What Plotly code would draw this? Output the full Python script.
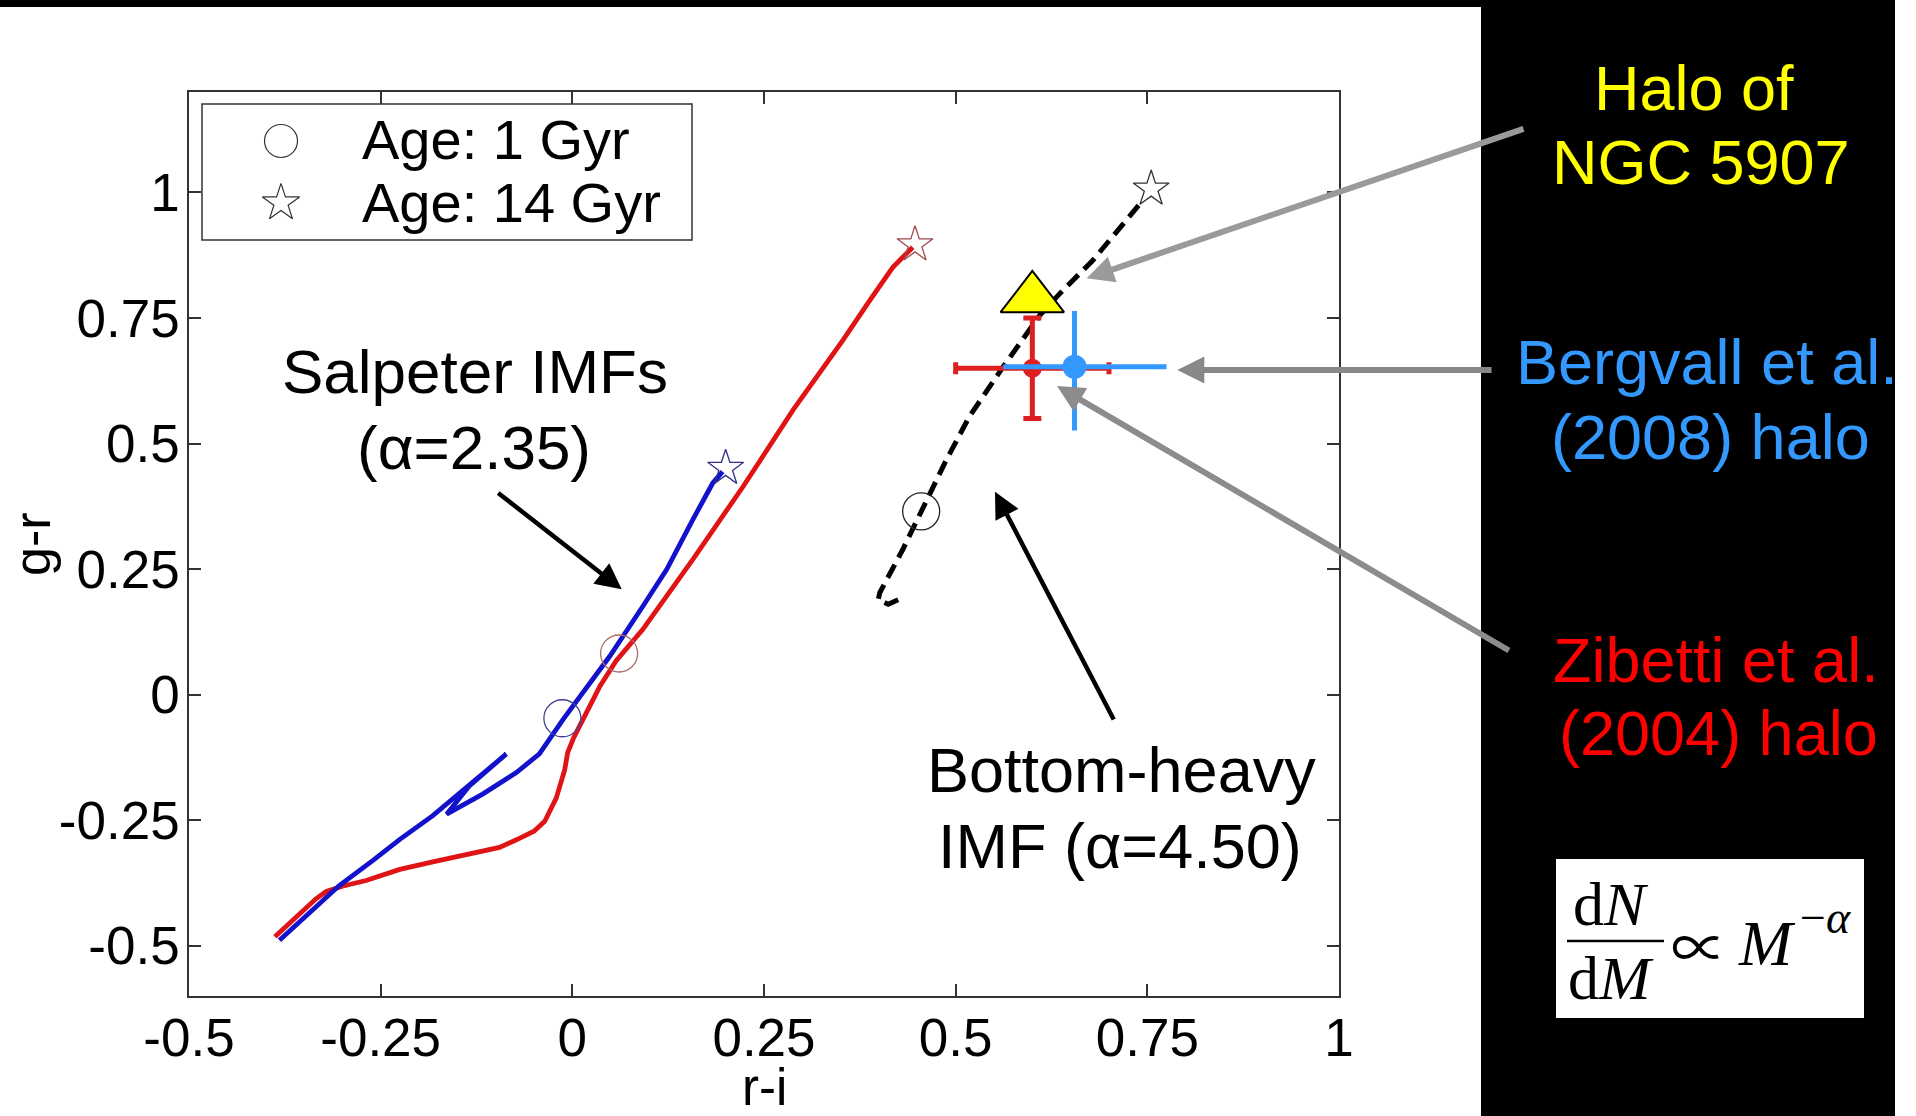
import plotly.graph_objects as go

# ---------------- data ----------------
# Salpeter IMF track (red)
red_x = [-0.388, -0.377, -0.356, -0.334, -0.321, -0.299, -0.269, -0.225, -0.182, -0.138,
         -0.095, -0.073, -0.050, -0.036, -0.021, -0.010, -0.006, 0.002, 0.015, 0.036,
         0.057, 0.092, 0.157, 0.223, 0.288, 0.353, 0.388, 0.418, 0.444]
red_y = [-0.482, -0.466, -0.436, -0.406, -0.392, -0.381, -0.370, -0.348, -0.333, -0.318,
         -0.304, -0.289, -0.272, -0.252, -0.206, -0.150, -0.115, -0.085, -0.046, 0.017,
         0.067, 0.130, 0.269, 0.415, 0.567, 0.706, 0.785, 0.851, 0.891]
# Salpeter IMF track (blue)
blue_x = [-0.382, -0.350, -0.304, -0.260, -0.225, -0.182, -0.138, -0.086, -0.134, -0.164,
          -0.117, -0.073, -0.043, -0.012, 0.036, 0.049, 0.092, 0.123, 0.157, 0.183, 0.196]
blue_y = [-0.489, -0.445, -0.380, -0.330, -0.288, -0.241, -0.185, -0.118, -0.181, -0.238,
          -0.198, -0.155, -0.118, -0.049, 0.050, 0.077, 0.176, 0.249, 0.348, 0.421, 0.444]
# Bottom-heavy IMF track (black dashed)
bh_x = [0.425, 0.412, 0.399, 0.401, 0.431, 0.462, 0.488, 0.518, 0.562, 0.610, 0.636, 0.679, 0.714, 0.744]
bh_y = [0.189, 0.180, 0.189, 0.203, 0.289, 0.388, 0.468, 0.554, 0.653, 0.756, 0.799, 0.865, 0.931, 0.984]

# Age markers
age1_x = [0.455, 0.061, -0.013]
age1_y = [0.365, 0.082, -0.047]
age1_col = ["#222222", "#b06a6a", "#40409a"]
age14_x = [0.755, 0.447, 0.200]
age14_y = [1.007, 0.896, 0.451]
age14_col = ["#333333", "#a04a4a", "#30308a"]

# Observations
ngc_x = [0.600]
ngc_y = [0.789]
zib_x = [0.600]
zib_y = [0.650]
zib_ex = [0.10]
zib_ey = [0.10]
berg_x = [0.655]
berg_y = [0.653]
berg_ex_plus = [0.120]
berg_ex_minus = [0.093]
berg_ey_plus = [0.111]
berg_ey_minus = [0.127]

# axes
x_ticks = [-0.5, -0.25, 0, 0.25, 0.5, 0.75, 1]
x_ticktext = ["-0.5", "-0.25", "0", "0.25", "0.5", "0.75", "1"]
y_ticks = [-0.5, -0.25, 0, 0.25, 0.5, 0.75, 1]
y_ticktext = ["-0.5", "-0.25", "0", "0.25", "0.5", "0.75", "1"]
x_title = "r-i"
y_title = "g-r"

# arrows: head (x,y) and tail (x,y), in data units
arrow_head_x = [0.6709, 0.7891, 0.6322, 0.0644, 0.5513]
arrow_head_y = [0.829, 0.6464, 0.6145, 0.2097, 0.404]
arrow_tail_x = [1.2426, 1.2009, 1.2236, -0.0987, 0.7072]
arrow_tail_y = [1.1276, 0.6464, 0.0862, 0.404, -0.0526]
arrow_color = ["#9a9a9a", "#888888", "#8c8c8c", "#000000", "#000000"]
arrow_w = [6, 6, 6, 4.5, 4.5]
arrow_sz = [0.9, 0.9, 0.9, 1.15, 1.15]

# ---------------- layout geometry ----------------
FW, FH = 1916, 1116
L, R, T, B = 189, 1339, 92, 996
W, H = R - L, B - T


def PX(x):
    return (x - L) / W


def PY(y):
    return (B - y) / H


SANS = "Liberation Sans, Arial, Helvetica, sans-serif"
SERIF = "Liberation Serif, Times New Roman, DejaVu Serif, serif"

fig = go.Figure()

fig.add_trace(go.Scatter(x=red_x, y=red_y, mode="lines",
                         line=dict(color="#e01414", width=4.8), hoverinfo="skip"))
fig.add_trace(go.Scatter(x=blue_x, y=blue_y, mode="lines",
                         line=dict(color="#1212cc", width=4.8), hoverinfo="skip"))
fig.add_trace(go.Scatter(x=bh_x, y=bh_y, mode="lines",
                         line=dict(color="#000000", width=5, dash="15px,8px"), hoverinfo="skip"))

fig.add_trace(go.Scatter(x=age1_x, y=age1_y, mode="markers",
                         marker=dict(symbol="circle-open", size=37, color=age1_col,
                                     line=dict(width=1.3))))
fig.add_trace(go.Scatter(x=age14_x, y=age14_y, mode="markers",
                         marker=dict(symbol="star-open", size=27, color=age14_col,
                                     line=dict(width=1.3))))

fig.add_trace(go.Scatter(x=zib_x, y=zib_y, mode="markers",
                         marker=dict(symbol="circle", size=19, color="#dd1f1f"),
                         error_x=dict(type="data", array=zib_ex, color="#dd1f1f", thickness=5, width=6),
                         error_y=dict(type="data", array=zib_ey, color="#dd1f1f", thickness=5, width=9)))
fig.add_trace(go.Scatter(x=berg_x, y=berg_y, mode="markers",
                         marker=dict(symbol="circle", size=24, color="#3399ff"),
                         error_x=dict(type="data", symmetric=False, array=berg_ex_plus,
                                      arrayminus=berg_ex_minus, color="#3399ff", thickness=5, width=0),
                         error_y=dict(type="data", symmetric=False, array=berg_ey_plus,
                                      arrayminus=berg_ey_minus, color="#3399ff", thickness=5, width=0)))
fig.add_trace(go.Scatter(x=ngc_x, y=ngc_y, mode="markers",
                         marker=dict(symbol="triangle-up", size=55, color="#ffff00",
                                     line=dict(color="#000000", width=2))))

# legend markers on an invisible overlay axis (0..1 spans the plot area)
leg_sym_x = [PX(281), PX(281)]
leg_sym_y = [PY(141), PY(203)]
fig.add_trace(go.Scatter(x=leg_sym_x[:1], y=leg_sym_y[:1], xaxis="x2", yaxis="y2", mode="markers",
                         marker=dict(symbol="circle-open", size=33, color="#333333", line=dict(width=1.2))))
fig.add_trace(go.Scatter(x=leg_sym_x[1:], y=leg_sym_y[1:], xaxis="x2", yaxis="y2", mode="markers",
                         marker=dict(symbol="star-open", size=28, color="#333333", line=dict(width=1.2))))

shapes = [
    # right black panel
    dict(type="rect", xref="paper", yref="paper", x0=PX(1481), x1=PX(1895), y0=PY(FH + 2), y1=PY(-2),
         fillcolor="black", line=dict(width=0), layer="below"),
    # top black strip
    dict(type="rect", xref="paper", yref="paper", x0=PX(-2), x1=PX(1895), y0=PY(7), y1=PY(-2),
         fillcolor="black", line=dict(width=0), layer="below"),
    # legend box
    dict(type="rect", xref="paper", yref="paper", x0=PX(202), x1=PX(692), y0=PY(240), y1=PY(104),
         fillcolor="white", line=dict(color="#333333", width=1.5), layer="below"),
    # formula box
    dict(type="rect", xref="paper", yref="paper", x0=PX(1556), x1=PX(1864), y0=PY(1018), y1=PY(859),
         fillcolor="white", line=dict(width=0), layer="above"),
    # fraction bar
    dict(type="line", xref="paper", yref="paper", x0=PX(1567), x1=PX(1664), y0=PY(941), y1=PY(941),
         line=dict(color="black", width=2.5), layer="above"),
]

ann = []
for hx, hy, tx, ty, c, w, s in zip(arrow_head_x, arrow_head_y, arrow_tail_x, arrow_tail_y,
                                   arrow_color, arrow_w, arrow_sz):
    ann.append(dict(x=hx, y=hy, ax=tx, ay=ty, xref="x", yref="y", axref="x", ayref="y",
                    text="", showarrow=True, arrowhead=2, arrowsize=s, arrowwidth=w,
                    arrowcolor=c, standoff=0))


def txt(s, x, y, size, color="black", family=SANS, xanchor="center", angle=0):
    ann.append(dict(text=s, x=PX(x), y=PY(y), xref="paper", yref="paper", showarrow=False,
                    xanchor=xanchor, yanchor="middle", textangle=angle,
                    font=dict(size=size, color=color, family=family)))


# axis titles
txt(x_title, 764, 1087, 51)
txt(y_title, 32, 544, 52, angle=-90)
# legend labels
txt("Age: 1 Gyr", 360, 140, 56, xanchor="left")
txt("Age: 14 Gyr", 360, 202, 56, xanchor="left")
# in-plot labels
txt("Salpeter IMFs", 475, 371, 62)
txt("(\u03b1=2.35)", 474, 448, 62)
txt("Bottom-heavy", 1121, 770, 63)
txt("IMF (\u03b1=4.50)", 1120, 846, 63)
# right panel labels
txt("Halo of", 1694, 88, 63, color="#ffff00")
txt("NGC 5907", 1701, 162, 63, color="#ffff00")
txt("Bergvall et al.", 1707, 362, 63, color="#3399ff")
txt("(2008) halo", 1710, 437, 63, color="#3399ff")
txt("Zibetti et al.", 1716, 660, 63, color="#ff0000")
txt("(2004) halo", 1718, 733, 63, color="#ff0000")
# formula
txt("d<i>N</i>", 1611, 904, 62, family=SERIF)
txt("d<i>M</i>", 1611, 978, 62, family=SERIF)
txt("\u221d", 1699, 943, 56, family="Noto Sans CJK JP, Liberation Serif, serif")
txt("<i>M</i>", 1767, 943, 64, family=SERIF)
txt("\u2212<i>\u03b1</i>", 1825, 917, 46, family=SERIF)

axis_common = dict(ticks="inside", ticklen=12, tickwidth=1.5, tickcolor="#333333",
                   showline=True, linecolor="#333333", linewidth=1.5, mirror="ticks",
                   showgrid=False, zeroline=False, automargin=False,
                   tickfont=dict(size=53, color="black", family=SANS))

fig.update_layout(
    width=FW, height=FH,
    margin=dict(l=L, r=FW - R, t=T, b=FH - B, pad=0, autoexpand=False),
    paper_bgcolor="white", plot_bgcolor="white",
    showlegend=False,
    xaxis=dict(range=[-0.5, 1], tickvals=x_ticks, ticktext=x_ticktext,
               ticklabelstandoff=-5, **axis_common),
    yaxis=dict(range=[-0.6, 1.2], tickvals=y_ticks, ticktext=y_ticktext,
               ticklabelstandoff=-3, **axis_common),
    xaxis2=dict(overlaying="x", anchor="y2", range=[0, 1], visible=False),
    yaxis2=dict(overlaying="y", anchor="x2", range=[0, 1], visible=False),
    shapes=shapes,
    annotations=ann,
)

fig.write_html(
    "out.html",
    config={"displayModeBar": False},
    post_script=("document.body.style.margin='0px';"
                 "document.body.style.overflow='hidden';"
                 "document.documentElement.style.overflow='hidden';"),
)
